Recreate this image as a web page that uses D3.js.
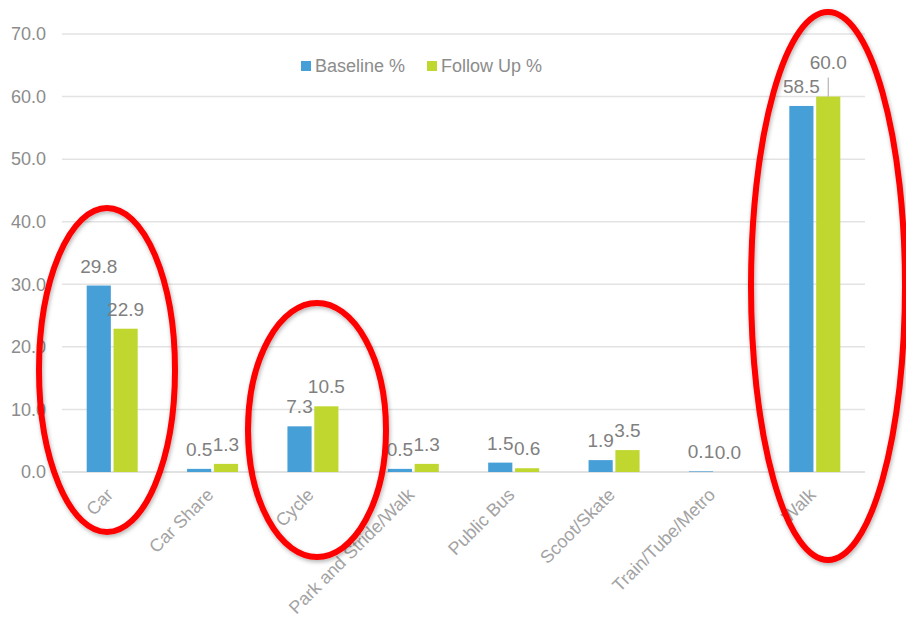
<!DOCTYPE html>
<html><head><meta charset="utf-8">
<script src="https://cdn.jsdelivr.net/npm/d3@7"></script>
<style>body{margin:0;background:#fff}svg{display:block}text{font-family:"Liberation Sans",Arial,sans-serif}</style>
</head><body>
<svg id="c" width="906" height="621"></svg>
<script>
const categories = ["Car","Car Share","Cycle","Park and Stride/Walk","Public Bus","Scoot/Skate","Train/Tube/Metro","Walk"];
const baseline = [29.8,0.5,7.3,0.5,1.5,1.9,0.1,58.5];
const followUp = [22.9,1.3,10.5,1.3,0.6,3.5,0.0,60.0];
const seriesNames = ["Baseline %","Follow Up %"];
const yTicks = [0,10,20,30,40,50,60,70];
const highlighted = ["Car","Cycle","Walk"];

const svg = d3.select("#c");
const colors = ["#479fd8","#c0d72f"];
const x = d3.scaleBand().domain(categories).range([62,865]);
const xs = d3.scaleBand().domain([0,1]).range([0,51]).paddingInner(0.1);
const y = d3.scaleLinear().domain([0,70]).range([472,34]);

// grid
svg.append("g").selectAll("line").data(yTicks).join("line")
  .attr("x1",62).attr("x2",865).attr("y1",d=>y(d)).attr("y2",d=>y(d))
  .attr("stroke",d=>d===0?"#d9d9d9":"#e3e3e3").attr("stroke-width",1.5);

// y axis labels
const yAxis = d3.axisLeft(y).tickValues(yTicks).tickFormat(d3.format(".1f")).tickSize(0).tickPadding(0);
const ya = svg.append("g").attr("transform","translate(46,0)").call(yAxis);
ya.select(".domain").remove();
ya.selectAll("text").attr("font-size",18).attr("fill","#8c8c8c");

// bars
const series = [baseline, followUp];
const groups = svg.append("g");
const maxV = d3.max(series.flat());
series.forEach((vals,si)=>{
  const data = categories.map((c,i)=>({c, v:vals[i], si}));
  const off = x.bandwidth()/2 - 25.5;
  groups.append("g").selectAll("rect").data(data).join("rect")
    .attr("x",d=>x(d.c)+off+xs(si))
    .attr("y",d=>y(d.v))
    .attr("width",xs.bandwidth())
    .attr("height",d=>y(0)-y(d.v))
    .attr("fill",colors[si]);
  const lab = groups.append("g").selectAll("g").data(data).join("g");
  lab.append("text")
    .attr("x",d=>x(d.c)+off+xs(si)+xs.bandwidth()/2)
    .attr("y",d=>y(d.v)-(d.v===maxV?28:13))
    .attr("text-anchor","middle").attr("font-size",19).attr("fill","#808080")
    .text(d=>d3.format(".1f")(d.v));
  lab.filter(d=>d.v===maxV).append("line")
    .attr("x1",d=>x(d.c)+off+xs(si)+xs.bandwidth()/2)
    .attr("x2",d=>x(d.c)+off+xs(si)+xs.bandwidth()/2)
    .attr("y1",d=>y(d.v)-19).attr("y2",d=>y(d.v))
    .attr("stroke","#a6a6a6").attr("stroke-width",1);
});

// x labels
const xa = svg.append("g").attr("transform","translate(0,472)")
  .call(d3.axisBottom(x).tickSize(0).tickPadding(0));
xa.select(".domain").remove();
xa.selectAll("text").attr("font-size",18).attr("fill","#a3a3a3")
  .attr("text-anchor","end").attr("dy",0)
  .attr("transform","translate(2,24) rotate(-45)");

// legend
const leg = svg.append("g").attr("transform","translate(301,61)");
seriesNames.forEach((n,i)=>{
  const g = leg.append("g").attr("transform",`translate(${i*126},0)`);
  g.append("rect").attr("width",10).attr("height",10).attr("y",0).attr("fill",colors[i]);
  g.append("text").attr("x",14).attr("y",11).attr("font-size",18).attr("fill","#8c8c8c").text(n);
});

// red ellipses
const ell = {Car:[107,370,68,162], Cycle:[317,430,69,127], Walk:[828,286,77,274]};
const defs = svg.append("defs");
defs.append("filter").attr("id","sh").append("feDropShadow")
  .attr("dx",1).attr("dy",2).attr("stdDeviation",2).attr("flood-color","#000").attr("flood-opacity",0.3);
svg.append("g").selectAll("ellipse").data(highlighted).join("ellipse")
  .attr("cx",d=>ell[d][0]).attr("cy",d=>ell[d][1]).attr("rx",d=>ell[d][2]).attr("ry",d=>ell[d][3])
  .attr("fill","none").attr("stroke","#ff0000").attr("stroke-width",6).attr("filter","url(#sh)");
</script>
</body></html>
